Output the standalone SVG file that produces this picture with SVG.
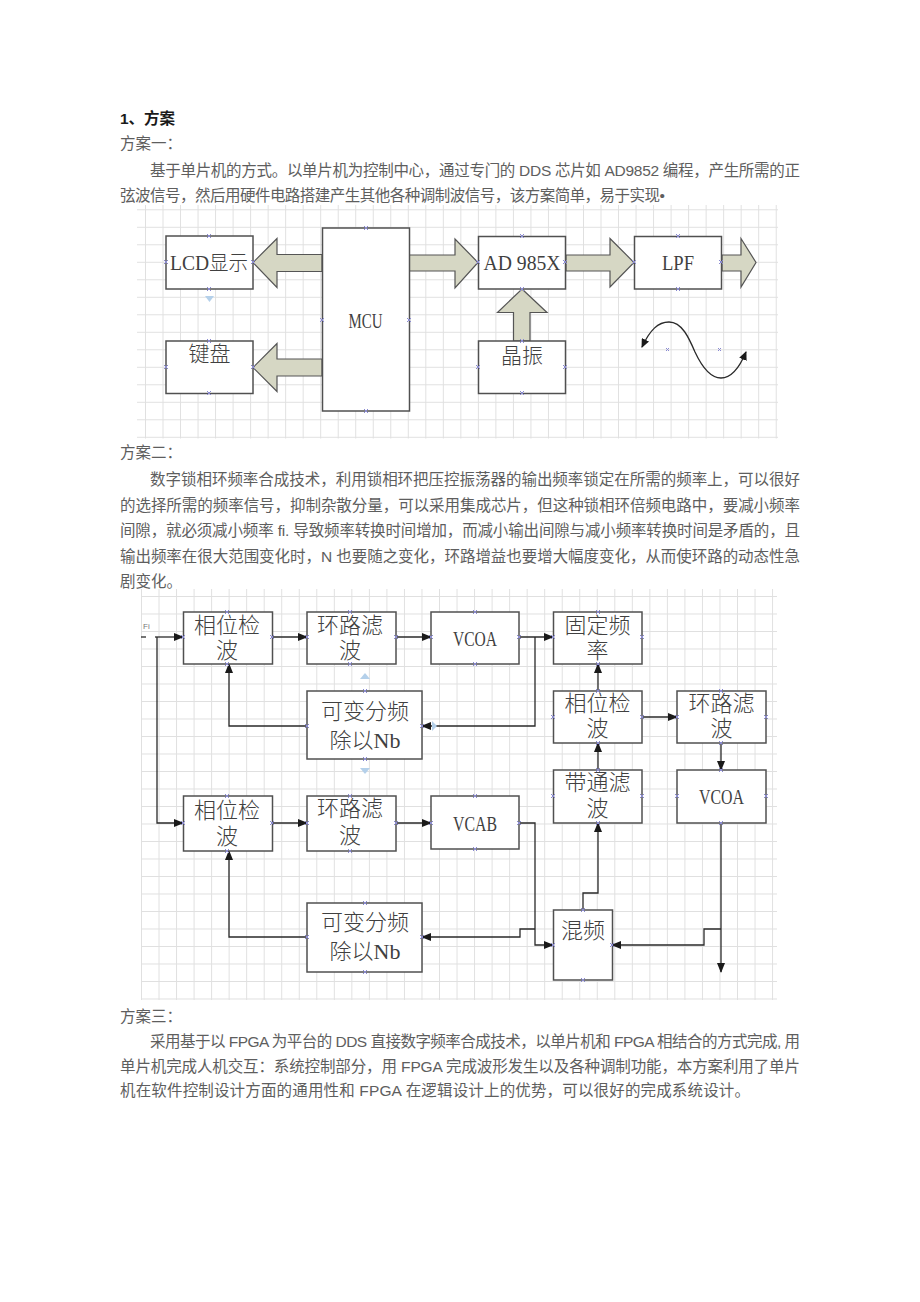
<svg xmlns="http://www.w3.org/2000/svg" width="920" height="1302" viewBox="0 0 920 1302">
<style>
.body{font-family:"Liberation Sans","Noto Sans CJK SC",sans-serif;font-size:15.5px;fill:#5e5e5e}
.head{font-family:"Liberation Sans","Noto Sans CJK SC",sans-serif;font-size:15.5px;font-weight:bold;fill:#1a1a1a}
.box{fill:#fff;stroke:#505050;stroke-width:1.5}
.lbl{font-family:"Liberation Serif","Noto Sans CJK SC",serif;font-size:21px;font-weight:300;fill:#404040;text-anchor:middle}
.lbl2{font-family:"Liberation Serif","Noto Sans CJK SC",serif;font-size:22px;font-weight:300;fill:#404040;text-anchor:middle}
.blk{fill:#d6d7c4;stroke:#555;stroke-width:1.2;stroke-linejoin:miter}
.ln{fill:none;stroke:#2a2a2a;stroke-width:1.3}
.mk{stroke:#8a8ad2;stroke-width:1;fill:none}
.hdl{fill:#b4d0ea}
</style>
<defs>
<pattern id="g1" patternUnits="userSpaceOnUse" x="145" y="209.3" width="17.52" height="17.5">
<rect x="0" y="0" width="17.52" height="1" fill="#e0e0e0"/>
<rect x="0" y="0" width="1" height="17.5" fill="#e0e0e0"/>
</pattern>
<pattern id="g2" patternUnits="userSpaceOnUse" x="141" y="578.5" width="17.53" height="17.5">
<rect x="0" y="0" width="17.53" height="1" fill="#e0e0e0"/>
<rect x="0" y="0" width="1" height="17.5" fill="#e0e0e0"/>
</pattern>
<marker id="ah" markerUnits="userSpaceOnUse" markerWidth="10" markerHeight="8" refX="9" refY="4" orient="auto">
<path d="M0,0 L10,4 L0,8 Z" fill="#1a1a1a"/>
</marker>
<marker id="ah2" markerUnits="userSpaceOnUse" markerWidth="9" markerHeight="8" refX="8" refY="4" orient="auto-start-reverse">
<path d="M0,0 L9,4 L0,8 Z" fill="#1a1a1a"/>
</marker>
</defs>
<rect width="920" height="1302" fill="#fff"/>

<g id="text-top">
<text class="head" x="120" y="124">1、方案</text>
<text class="body" x="120" y="149">方案一：</text>
<text class="body" x="150" y="176" textLength="650" lengthAdjust="spacing">基于单片机的方式。以单片机为控制中心，通过专门的 DDS 芯片如 AD9852 编程，产生所需的正</text>
<text class="body" x="120" y="201" textLength="545" lengthAdjust="spacing">弦波信号，然后用硬件电路搭建产生其他各种调制波信号，该方案简单，易于实现•</text>
</g>

<g id="grid1"><rect x="137" y="205" width="641" height="233.5" fill="url(#g1)"/></g>

<g id="connectors1">
<polygon class="blk" points="253,262.5 277,238.5 277,254.5 322,254.5 322,271.5 277,271.5 277,287.5"/>
<polygon class="blk" points="253,367.5 277,343.5 277,359 322,359 322,376 277,376 277,391.5"/>
<polygon class="blk" points="409,255 455,255 455,239 478,262.5 455,288 455,271 409,271"/>
<polygon class="blk" points="566,255 610,255 610,238.5 634,262.5 610,287 610,271 566,271"/>
<polygon class="blk" points="722,255 741,255 741,238.5 756,262.5 741,287 741,271 722,271"/>
<polygon class="blk" points="522,289 547,312.5 530,312.5 530,341 513.5,341 513.5,312.5 497.5,312.5"/>
<path class="ln" d="M642,347 C650,330 658,322 669,322 C682,322 689,338 695,352 C702,367 710,378 721,378 C733,378 741,364 746,352" stroke="#555" marker-start="url(#ah2)" marker-end="url(#ah2)"/>
</g>

<g id="n-lcd"><rect class="box" x="166" y="236" width="87" height="53"/><text class="lbl" x="209" y="270" font-size="20" textLength="78" lengthAdjust="spacingAndGlyphs">LCD显示</text></g>
<g id="n-key"><rect class="box" x="166" y="341" width="87" height="52.5"/><text class="lbl" x="209.5" y="361">键盘</text></g>
<g id="n-mcu"><rect class="box" x="322.5" y="228" width="87" height="183"/><text class="lbl" x="365.5" y="328" font-size="23" textLength="34" lengthAdjust="spacingAndGlyphs">MCU</text></g>
<g id="n-ad"><rect class="box" x="478.5" y="236.5" width="87" height="52.5"/><text class="lbl" x="522" y="270" textLength="77" lengthAdjust="spacingAndGlyphs">AD 985X</text></g>
<g id="n-xtal"><rect class="box" x="478.5" y="341" width="87" height="52.5"/><text class="lbl" x="522" y="363">晶振</text></g>
<g id="n-lpf"><rect class="box" x="634.5" y="236.5" width="87" height="52.5"/><text class="lbl" x="678" y="270" font-size="22" textLength="32" lengthAdjust="spacingAndGlyphs">LPF</text></g>

<g id="markers1">
<path class="mk" d="M207,234l4,4m0-4l-4,4 M207,287l4,4m0-4l-4,4 M164,260l4,4m0-4l-4,4 M251,260l4,4m0-4l-4,4
M207,339l4,4m0-4l-4,4 M207,391l4,4m0-4l-4,4 M164,365l4,4m0-4l-4,4 M251,365l4,4m0-4l-4,4
M364,226l4,4m0-4l-4,4 M364,409l4,4m0-4l-4,4 M320,318l4,4m0-4l-4,4 M407,318l4,4m0-4l-4,4
M520,234l4,4m0-4l-4,4 M520,287l4,4m0-4l-4,4 M476,260l4,4m0-4l-4,4 M563,260l4,4m0-4l-4,4
M520,339l4,4m0-4l-4,4 M520,391l4,4m0-4l-4,4 M476,365l4,4m0-4l-4,4 M563,365l4,4m0-4l-4,4
M676,234l4,4m0-4l-4,4 M676,287l4,4m0-4l-4,4 M632,260l4,4m0-4l-4,4 M719,260l4,4m0-4l-4,4
M666,348l3,3m0-3l-3,3 M718,348l3,3m0-3l-3,3"/>
<polygon class="hdl" points="205,296 214,296 209.5,302"/>
</g>

<g id="text-mid">
<text class="body" x="120" y="458">方案二：</text>
<text class="body" x="150" y="485" textLength="650" lengthAdjust="spacing">数字锁相环频率合成技术，利用锁相环把压控振荡器的输出频率锁定在所需的频率上，可以很好</text>
<text class="body" x="120" y="511" textLength="680" lengthAdjust="spacing">的选择所需的频率信号，抑制杂散分量，可以采用集成芯片，但这种锁相环倍频电路中，要减小频率</text>
<text class="body" x="120" y="536" textLength="680" lengthAdjust="spacing">间隙，就必须减小频率 fi. 导致频率转换时间增加，而减小输出间隙与减小频率转换时间是矛盾的，且</text>
<text class="body" x="120" y="562" textLength="680" lengthAdjust="spacing">输出频率在很大范围变化时，N 也要随之变化，环路增益也要增大幅度变化，从而使环路的动态性急</text>
<text class="body" x="120" y="587">剧变化。</text>
</g>

<g id="grid2"><rect x="141" y="589" width="636" height="411" fill="url(#g2)"/></g>

<g id="connectors2">
<path class="ln" d="M141,637 H146"/>
<path class="ln" d="M155,637 H183" marker-end="url(#ah)"/>
<path class="ln" d="M157,637 V823 H183" marker-end="url(#ah)"/>
<path class="ln" d="M272,637 H307" marker-end="url(#ah)"/>
<path class="ln" d="M396,637 H431" marker-end="url(#ah)"/>
<path class="ln" d="M519,637 H553" marker-end="url(#ah)"/>
<path class="ln" d="M535,637 V726 H422" marker-end="url(#ah)"/>
<path class="ln" d="M307,726 H229 V664" marker-end="url(#ah)"/>
<path class="ln" d="M598,691 V664" marker-end="url(#ah)"/>
<path class="ln" d="M642,717 H677" marker-end="url(#ah)"/>
<path class="ln" d="M721,743 V770" marker-end="url(#ah)"/>
<path class="ln" d="M598,770 V743" marker-end="url(#ah)"/>
<path class="ln" d="M272,823 H307" marker-end="url(#ah)"/>
<path class="ln" d="M396,823 H431" marker-end="url(#ah)"/>
<path class="ln" d="M519,823 H535 V945 H553" marker-end="url(#ah)"/>
<path class="ln" d="M535,929 H520 V937 H422" marker-end="url(#ah)"/>
<path class="ln" d="M307,937 H229 V851" marker-end="url(#ah)"/>
<path class="ln" d="M583,910 V893 H598 V823" marker-end="url(#ah)"/>
<path class="ln" d="M721,823 V972" marker-end="url(#ah)"/>
<path class="ln" d="M721,929 H704 V945 H612" marker-end="url(#ah)"/>
<text x="143" y="629" font-family="Liberation Sans, sans-serif" font-size="8" fill="#777">Fi</text>
</g>

<g id="n-pd1"><rect class="box" x="183.5" y="612" width="89" height="52"/><text class="lbl2" x="227" y="633">相位检</text><text class="lbl2" x="227" y="658">波</text></g>
<g id="n-lf1"><rect class="box" x="307" y="612" width="89" height="52"/><text class="lbl2" x="350" y="633">环路滤</text><text class="lbl2" x="350" y="658">波</text></g>
<g id="n-vcoa1"><rect class="box" x="431" y="612" width="88" height="52"/><text class="lbl2" x="475" y="646" font-size="24" textLength="44" lengthAdjust="spacingAndGlyphs">VCOA</text></g>
<g id="n-fix"><rect class="box" x="553.5" y="612" width="88.5" height="52"/><text class="lbl2" x="597.5" y="633">固定频</text><text class="lbl2" x="597.5" y="658">率</text></g>
<g id="n-div1"><rect class="box" x="307" y="691" width="115" height="68"/><text class="lbl2" x="365" y="719">可变分频</text><text class="lbl2" x="365" y="748">除以Nb</text></g>
<g id="n-pd2"><rect class="box" x="553.5" y="691" width="88.5" height="52"/><text class="lbl2" x="597.5" y="711">相位检</text><text class="lbl2" x="597.5" y="736">波</text></g>
<g id="n-lf2"><rect class="box" x="677" y="691" width="89" height="52"/><text class="lbl2" x="721.5" y="711">环路滤</text><text class="lbl2" x="721.5" y="736">波</text></g>
<g id="n-bpf"><rect class="box" x="553.5" y="770" width="88.5" height="53"/><text class="lbl2" x="597.5" y="790">带通滤</text><text class="lbl2" x="597.5" y="816">波</text></g>
<g id="n-vcoa2"><rect class="box" x="677" y="770" width="89" height="53"/><text class="lbl2" x="721.5" y="804" font-size="24" textLength="45" lengthAdjust="spacingAndGlyphs">VCOA</text></g>
<g id="n-pd3"><rect class="box" x="183.5" y="796" width="89" height="55"/><text class="lbl2" x="227" y="818">相位检</text><text class="lbl2" x="227" y="844">波</text></g>
<g id="n-lf3"><rect class="box" x="307" y="796" width="89" height="55"/><text class="lbl2" x="350" y="816">环路滤</text><text class="lbl2" x="350" y="843">波</text></g>
<g id="n-vcab"><rect class="box" x="431" y="796" width="88" height="53"/><text class="lbl2" x="475" y="831" font-size="24" textLength="44" lengthAdjust="spacingAndGlyphs">VCAB</text></g>
<g id="n-div2"><rect class="box" x="307" y="903" width="115" height="69"/><text class="lbl2" x="365" y="930">可变分频</text><text class="lbl2" x="365" y="959">除以Nb</text></g>
<g id="n-mix"><rect class="box" x="553.5" y="910" width="59" height="70"/><text class="lbl2" x="583" y="938">混频</text></g>

<g id="markers2">
<path class="mk" d="M225,610l4,4m0-4l-4,4 M225,662l4,4m0-4l-4,4 M181,635l4,4m0-4l-4,4 M270,635l4,4m0-4l-4,4
M348,610l4,4m0-4l-4,4 M348,662l4,4m0-4l-4,4 M305,635l4,4m0-4l-4,4 M394,635l4,4m0-4l-4,4
M473,610l4,4m0-4l-4,4 M473,662l4,4m0-4l-4,4 M429,635l4,4m0-4l-4,4 M517,635l4,4m0-4l-4,4
M596,610l4,4m0-4l-4,4 M596,662l4,4m0-4l-4,4 M551,635l4,4m0-4l-4,4 M640,635l4,4m0-4l-4,4
M363,689l4,4m0-4l-4,4 M363,757l4,4m0-4l-4,4 M305,724l4,4m0-4l-4,4 M420,724l4,4m0-4l-4,4
M596,689l4,4m0-4l-4,4 M596,741l4,4m0-4l-4,4 M551,715l4,4m0-4l-4,4 M640,715l4,4m0-4l-4,4
M719,689l4,4m0-4l-4,4 M719,741l4,4m0-4l-4,4 M675,715l4,4m0-4l-4,4 M764,715l4,4m0-4l-4,4
M596,768l4,4m0-4l-4,4 M596,821l4,4m0-4l-4,4 M551,794l4,4m0-4l-4,4 M640,794l4,4m0-4l-4,4
M719,768l4,4m0-4l-4,4 M719,821l4,4m0-4l-4,4 M675,794l4,4m0-4l-4,4 M764,794l4,4m0-4l-4,4
M225,794l4,4m0-4l-4,4 M225,849l4,4m0-4l-4,4 M181,821l4,4m0-4l-4,4 M270,821l4,4m0-4l-4,4
M348,794l4,4m0-4l-4,4 M348,849l4,4m0-4l-4,4 M305,821l4,4m0-4l-4,4 M394,821l4,4m0-4l-4,4
M473,794l4,4m0-4l-4,4 M473,847l4,4m0-4l-4,4 M429,821l4,4m0-4l-4,4 M517,821l4,4m0-4l-4,4
M363,901l4,4m0-4l-4,4 M363,970l4,4m0-4l-4,4 M305,935l4,4m0-4l-4,4 M420,935l4,4m0-4l-4,4
M581,908l4,4m0-4l-4,4 M581,978l4,4m0-4l-4,4 M551,943l4,4m0-4l-4,4 M610,943l4,4m0-4l-4,4"/>
<polygon class="hdl" points="365,673 360,679 370,679"/>
<polygon class="hdl" points="360,768 370,768 365,774"/>
<polygon class="hdl" points="432,721 432,731 437,726"/>
</g>

<g id="text-bottom">
<text class="body" x="120" y="1022">方案三：</text>
<text class="body" x="150" y="1047" textLength="650" lengthAdjust="spacing">采用基于以 FPGA 为平台的 DDS 直接数字频率合成技术，以单片机和 FPGA 相结合的方式完成, 用</text>
<text class="body" x="120" y="1072" textLength="680" lengthAdjust="spacing">单片机完成人机交互：系统控制部分，用 FPGA 完成波形发生以及各种调制功能，本方案利用了单片</text>
<text class="body" x="120" y="1096" textLength="630" lengthAdjust="spacing">机在软件控制设计方面的通用性和 FPGA 在逻辑设计上的优势，可以很好的完成系统设计。</text>
</g>
</svg>
